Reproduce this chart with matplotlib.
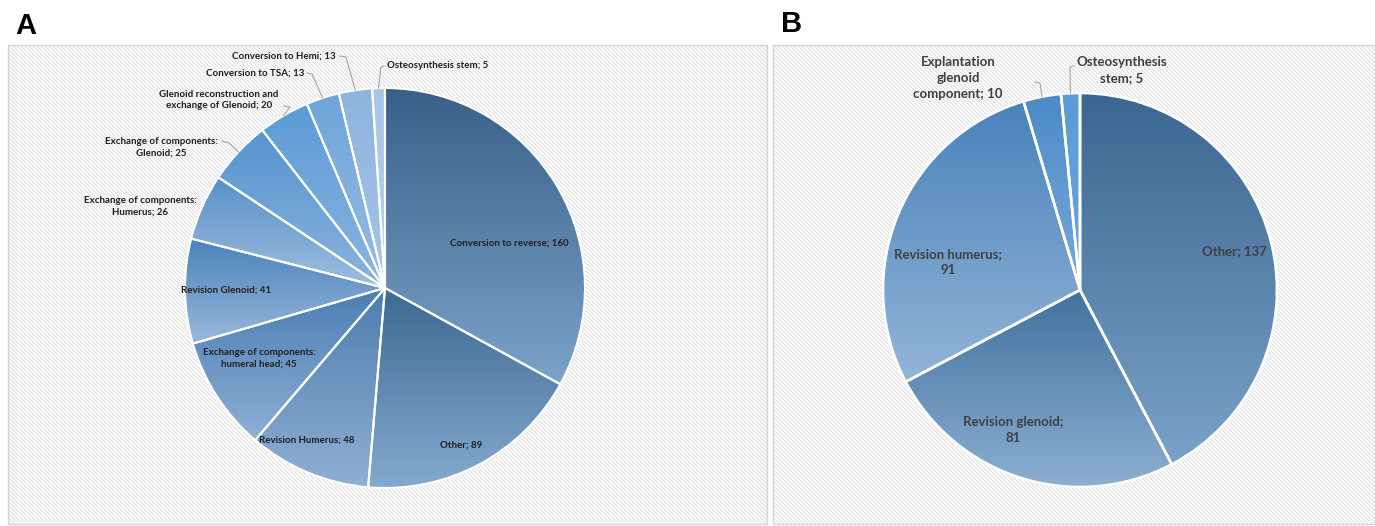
import numpy as np
import matplotlib
matplotlib.use("Agg")
import matplotlib.pyplot as plt
from matplotlib.colors import LinearSegmentedColormap

W, H = 1375, 526

# ── Panel A: revision procedures ─────────────────────────────────────────────
a_labels = [
    "Conversion to reverse",
    "Other",
    "Revision Humerus",
    "Exchange of components:\nhumeral head",
    "Revision Glenoid",
    "Exchange of components:\nHumerus",
    "Exchange of components:\nGlenoid",
    "Glenoid reconstruction and\nexchange of Glenoid",
    "Conversion to TSA",
    "Conversion to Hemi",
    "Osteosynthesis stem",
]
a_values = [160, 89, 48, 45, 41, 26, 25, 20, 13, 13, 5]
a_top = ["#375f88", "#3d6892", "#4d7cae", "#4a7db4", "#4b83bd", "#5990c8",
         "#5694cf", "#5b9bd5", "#70a4d8", "#8db3df", "#a9c5e6"]
a_bottom = ["#7ca4ca", "#85aacf", "#8fb0d3", "#8eb0d4", "#99b8da", "#9ebfe0",
            "#8bb4df", "#8cb6e2", "#94bde6", "#a8c6e8", "#b8d0ec"]

# ── Panel B ──────────────────────────────────────────────────────────────────
b_labels = ["Other", "Revision glenoid", "Revision humerus",
            "Explantation\nglenoid\ncomponent", "Osteosynthesis\nstem"]
b_values = [137, 81, 91, 10, 5]
b_break = [False, True, True, False, False]
b_top = ["#3b6691", "#41729f", "#4a82bb", "#4b8ac8", "#5b9bd5"]
b_bottom = ["#7aa2c8", "#8cafd2", "#93b5d7", "#7ba9d8", "#6aa6dc"]

# label centres / leader anchors in pixel space (y measured from the top)
a_text_pos = [(509, 243), (461, 445), (307, 440), (259, 358), (226, 290),
              (140, 206), (161, 147), (219, 100), (255, 73), (284, 56), (438, 66)]
a_leaders = {6: [(222, 141), (229, 143)], 7: [(284, 106), (290, 107)],
             8: [(307, 73), (312, 74)], 9: [(340, 56), (346, 57)],
             10: [(384, 66), (381, 67)]}
b_text_pos = [(1234, 251), (1013, 430), (948, 262), (958, 78), (1122, 70)]
b_leaders = {3: [(1035, 82), (1040, 83)], 4: [(1074, 66), (1070, 67)]}

FONT = ["Lato", "DejaVu Sans"]


def hatch_bg(ax, x0, y0, x1, y1):
    w, h = x1 - x0, y1 - y0
    yy, xx = np.mgrid[0:h, 0:w]
    img = np.where((xx - yy) % 4 == 0, 0.88, 0.965)
    ax.imshow(img, cmap="gray", vmin=0, vmax=1, origin="upper",
              extent=(x0, x1, H - y1, H - y0), interpolation="nearest",
              aspect="auto", zorder=0)
    ax.add_patch(plt.Rectangle((x0, H - y1), w, h, fill=False,
                               edgecolor="#d6d6d6", linewidth=1, zorder=0.5))


def shade(ax, wedge, top, bottom):
    ext = wedge.get_path().get_extents()
    cmap = LinearSegmentedColormap.from_list("wedge", [bottom, top])
    grad = np.linspace(1, 0, 256).reshape(-1, 1)
    im = ax.imshow(grad, cmap=cmap, vmin=0, vmax=1, origin="upper",
                   extent=(ext.x0, ext.x1, ext.y0, ext.y1),
                   interpolation="bilinear", aspect="auto", zorder=1.5)
    im.set_clip_path(wedge)
    wedge.set_facecolor("none")
    wedge.set_zorder(2)


def draw_pie(ax, values, tops, bottoms, center, radius, lw):
    cx, cy = center
    wedges, _ = ax.pie(values, colors=tops, startangle=90, counterclock=False,
                       center=(cx, H - cy), radius=radius,
                       wedgeprops=dict(edgecolor="white", linewidth=lw))
    for w, t, b in zip(wedges, tops, bottoms):
        shade(ax, w, t, b)
    return wedges


def leader(ax, wedge, pts):
    th = np.radians((wedge.theta1 + wedge.theta2) / 2)
    cx, cy = wedge.center
    end = (cx + wedge.r * np.cos(th), cy + wedge.r * np.sin(th))
    xs = [p[0] for p in pts] + [end[0]]
    ys = [H - p[1] for p in pts] + [end[1]]
    ax.plot(xs, ys, color="#a6a6a6", linewidth=0.8, zorder=3)


fig = plt.figure(figsize=(W / 100, H / 100), dpi=100)
ax = fig.add_axes([0, 0, 1, 1])

hatch_bg(ax, 8, 45, 767, 524)
hatch_bg(ax, 773, 45, 1375, 524)

wa = draw_pie(ax, a_values, a_top, a_bottom, (385, 288), 200, 1.5)
for i, (lab, val) in enumerate(zip(a_labels, a_values)):
    x, y = a_text_pos[i]
    ax.text(x, H - y, f"{lab}; {val}", ha="center", va="center",
            fontsize=7, fontweight="bold", color="#1f1f1f", family=FONT,
            linespacing=1.35, zorder=4)
for i, pts in a_leaders.items():
    leader(ax, wa[i], pts)

wb = draw_pie(ax, b_values, b_top, b_bottom, (1080, 290), 197, 1.9)
for i, (lab, val) in enumerate(zip(b_labels, b_values)):
    x, y = b_text_pos[i]
    sep = "\n" if b_break[i] else " "
    ax.text(x, H - y, f"{lab};{sep}{val}", ha="center", va="center",
            fontsize=9.5, fontweight="bold", color="#404040", family=FONT,
            linespacing=1.45, zorder=4)
for i, pts in b_leaders.items():
    leader(ax, wb[i], pts)

ax.text(15, H - 26, "A", fontsize=21, fontweight="bold", va="center",
        family=["Liberation Sans", "DejaVu Sans"])
ax.text(781, H - 24, "B", fontsize=21, fontweight="bold", va="center",
        family=["Liberation Sans", "DejaVu Sans"])

ax.set_xlim(0, W)
ax.set_ylim(0, H)
ax.set_aspect("auto")
ax.axis("off")

fig.savefig("out.png", dpi=100)
